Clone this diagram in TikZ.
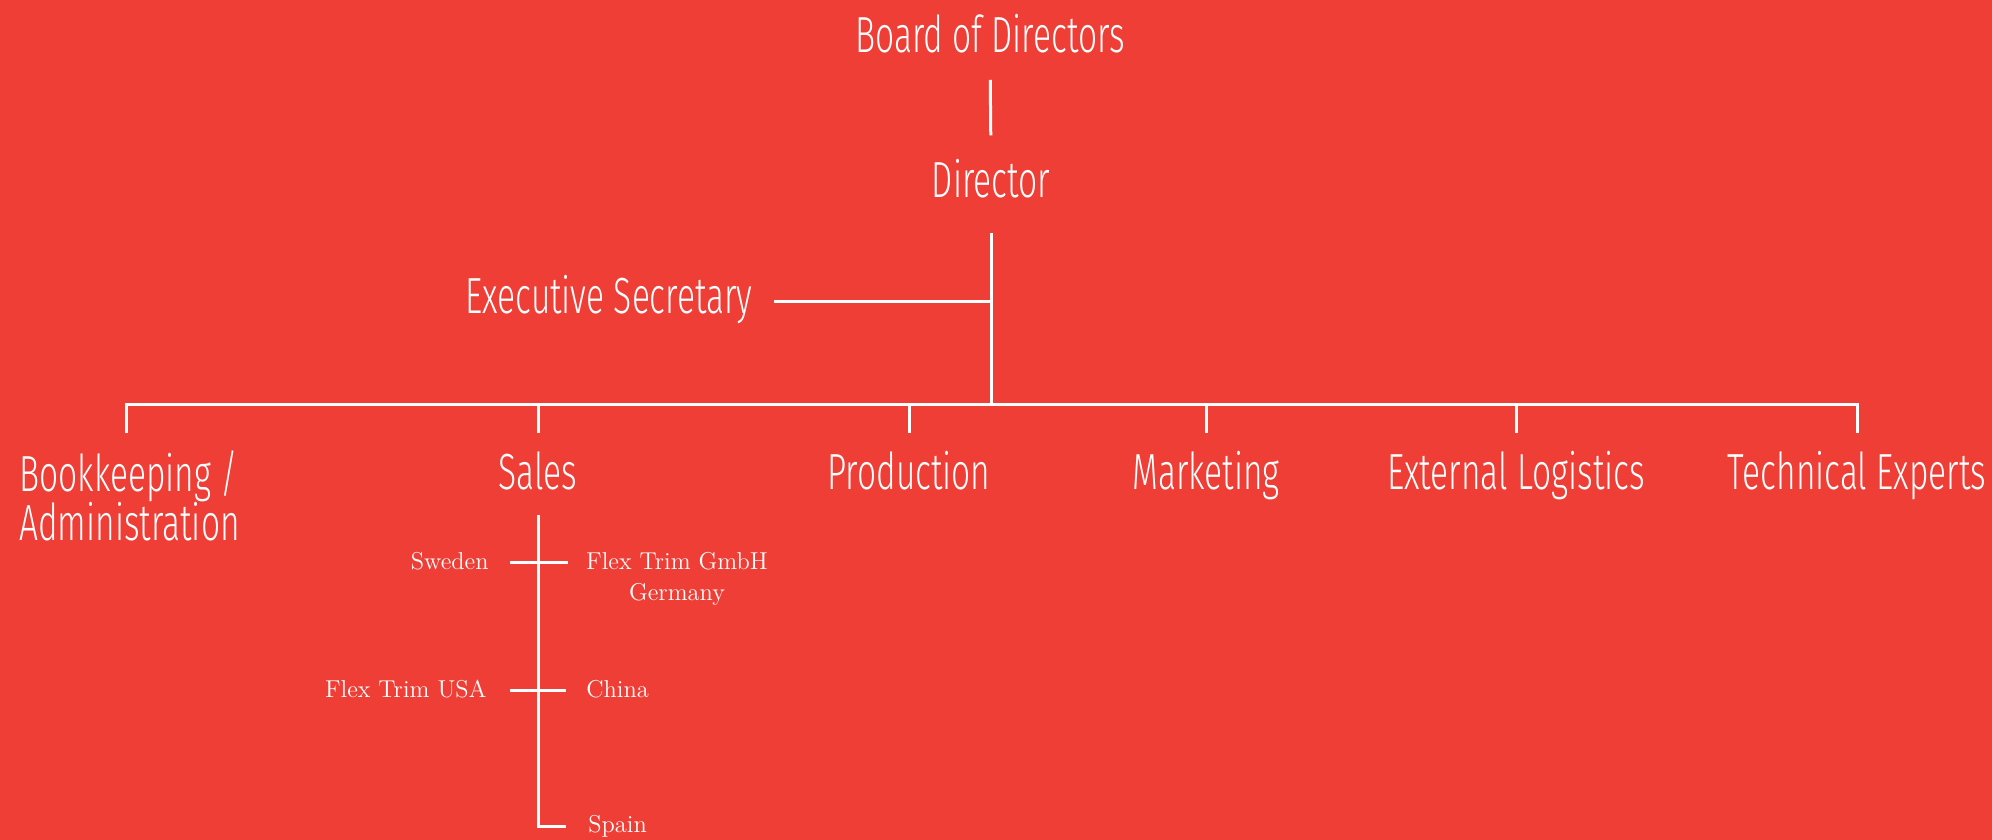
\documentclass[tikz,border=0pt]{standalone}
\usepackage{fontspec}
\newfontfamily\dinf{Fira Sans Light}[FakeStretch=0.66]
\definecolor{bg}{HTML}{EF3E36}
\tikzset{
  big/.style={font=\dinf\fontsize{25.4pt}{24.5pt}\selectfont, text=white, inner sep=0pt, anchor=base},
  small/.style={font=\fontsize{12.2pt}{15.5pt}\selectfont, text=white, inner sep=0pt},
  conn/.style={draw=white, line width=1.5pt},
}
\begin{document}
\begin{tikzpicture}[x=0.5pt,y=-0.5pt]
\fill[bg] (0,0) rectangle (1992,840);
\useasboundingbox (0,0) rectangle (1992,840);
\node[big] (board) at (990,53) {Board of Directors};
\node[big] (director) at (991,198) {Director};
\node[big] (exec) at (609,313) {Executive Secretary};
\node[big, anchor=base west, align=left] (bk) at (19,540) {Bookkeeping /\\Administration};
\node[big] (sales) at (538,489) {Sales};
\node[big] (prod) at (909,489) {Production};
\node[big] (mkt) at (1206,489) {Marketing};
\node[big] (ext) at (1516,489) {External Logistics};
\node[big] (tech) at (1857,489) {Technical Experts};
\coordinate (jc) at (991,404);
\coordinate (es) at (991,301);
\draw[conn, shorten <=13pt, shorten >=12pt] (board.south) -- (director.north);
\draw[conn, shorten <=17pt] (director.south) -- (jc);
\draw[conn, shorten >=10.5pt] (es) -- (es -| exec.east);
\draw[conn] (126,433) -- (126,404) -- (1857,404) -- (1857,433);
\foreach \n in {sales,prod,mkt,ext}
  \draw[conn] (jc -| \n) -- ++(0,29);
% sales subtree
\node[small, anchor=base east] (sweden) at (489,569) {Sweden};
\node[small, anchor=base, align=center] (gmbh) at (677,600) {Flex Trim GmbH\\Germany};
\node[small, anchor=base east] (usa) at (487,697) {Flex Trim USA};
\node[small, anchor=base west] (china) at (586,697) {China};
\node[small, anchor=base west] (spain) at (588,832) {Spain};
\coordinate (s1) at (538,562);
\coordinate (s2) at (538,690);
\coordinate (s3) at (538,826);
\draw[conn, shorten <=12.5pt, shorten >=11pt] (sales.south) -- (s3) -- (s3 -| spain.west);
\draw[conn, shorten <=10.5pt, shorten >=9pt] (s1 -| sweden.east) -- (s1 -| gmbh.west);
\draw[conn, shorten <=11.5pt, shorten >=10pt] (s2 -| usa.east) -- (s2 -| china.west);
\end{tikzpicture}
\end{document}
